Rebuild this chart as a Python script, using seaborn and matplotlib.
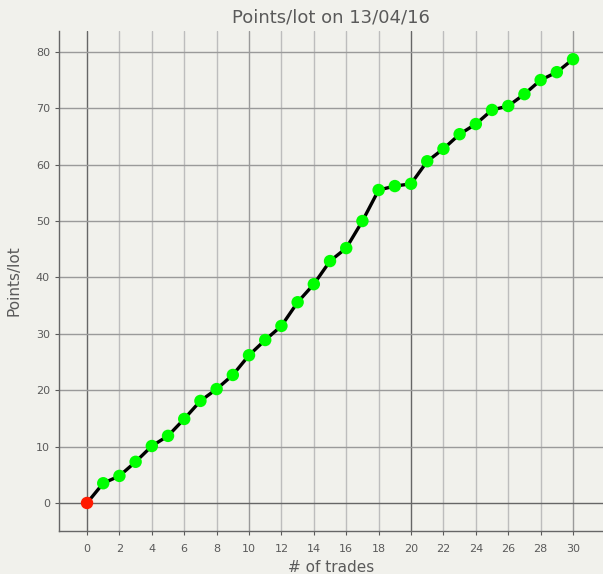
import matplotlib

matplotlib.use("Agg")
import matplotlib.pyplot as plt
import numpy as np
import pandas as pd
import seaborn as sns

trades = list(range(31))
points = [0.0, 3.5, 4.8, 7.3, 10.1, 11.9, 14.9, 18.1, 20.2, 22.7, 26.2,
          28.9, 31.4, 35.6, 38.8, 42.9, 45.2, 50.0, 55.5, 56.2, 56.6,
          60.6, 62.8, 65.4, 67.2, 69.7, 70.4, 72.5, 75.0, 76.4, 78.7]
x_ticks = list(range(0, 31, 2))
y_ticks = list(range(0, 81, 10))

df = pd.DataFrame({"trade": trades, "points": points})
df["kind"] = np.where(df["trade"] == 0, "start", "trade")

bg = "#f1f1ec"
txt = "#5a5a5a"

sns.set_theme(style="white")
plt.rcParams["font.family"] = ["DejaVu Sans"]

fig = plt.figure(figsize=(6.03, 5.74), dpi=100, facecolor=bg)
ax = fig.add_axes([59 / 603, 43 / 574, 544 / 603, 500 / 574])
ax.set_facecolor(bg)

# grid: light every 2, medium at 10/30, dark at 0/20
for xv in x_ticks:
    if xv in (0, 20):
        c = "#666666"
    elif xv in (10, 30):
        c = "#9a9a9a"
    else:
        c = "#bdbdbd"
    ax.axvline(xv, color=c, lw=1.0, zorder=0)
for yv in y_ticks:
    c = "#666666" if yv == 0 else "#9a9a9a"
    ax.axhline(yv, color=c, lw=1.0, zorder=0)

sns.lineplot(data=df, x="trade", y="points", color="black", lw=2.4, ax=ax, zorder=2)
sns.scatterplot(data=df, x="trade", y="points", hue="kind",
                palette={"start": "#ff1a00", "trade": "#00ff00"},
                s=80, edgecolor="none", legend=False, ax=ax, zorder=3)

ax.set_xlim(-1.73, 31.85)
ax.set_ylim(-4.97, 83.7)
ax.set_xticks(x_ticks)
ax.set_yticks(y_ticks)
ax.tick_params(axis="both", colors=txt, labelsize=8, length=3, width=0.8,
               direction="out", bottom=True, left=True)
ax.tick_params(axis="x", pad=6)
for s in ("top", "right"):
    ax.spines[s].set_visible(False)
for s in ("left", "bottom"):
    ax.spines[s].set_color("#666666")
    ax.spines[s].set_linewidth(1.0)

ax.set_xlabel("# of trades", color=txt, fontsize=11, labelpad=5)
ax.set_ylabel("Points/lot", color=txt, fontsize=11, labelpad=10)
ax.set_title("Points/lot on 13/04/16", color=txt, fontsize=13, pad=6)

fig.savefig("out.png", dpi=100, facecolor=bg)
